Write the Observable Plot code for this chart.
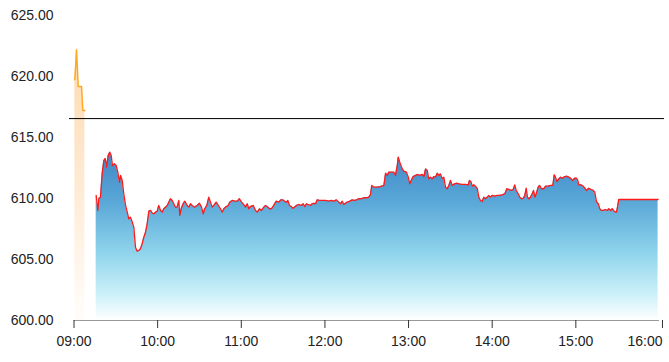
<!DOCTYPE html>
<html><head><meta charset="utf-8">
<script src="https://cdn.jsdelivr.net/npm/d3@7"></script>
<script src="https://cdn.jsdelivr.net/npm/@observablehq/plot@0.6"></script>
<style>body{margin:0;background:#fff} svg{display:block}</style>
</head><body><div id="chart"></div>
<script>
// minutes after 09:00
const preMinutes = [0.6, 1.8, 3.0, 5.4, 6.3, 7.8];
const prePrices  = [619.73, 622.19, 619.18, 619.18, 617.21, 617.21];

const minutes = [15.9,17.1,17.8,19.0,20.2,21.4,22.4,23.3,24.5,25.7,26.7,27.6,29.1,30.3,31.4,32.6,33.4,34.6,35.7,37.0,38.2,39.3,40.5,41.8,42.9,44.1,45.3,46.5,47.7,48.9,50.1,51.3,52.5,53.7,54.9,56.1,57.3,58.5,59.7,60.8,62.1,63.3,64.4,65.6,66.9,68.0,69.2,70.5,71.6,72.8,74.0,75.2,75.9,76.9,78.3,79.5,81.2,82.4,83.6,84.8,86.5,88.4,90.0,91.5,92.7,93.8,95.3,96.7,97.9,99.1,100.3,102.0,103.5,105.1,106.3,107.5,108.7,110.6,111.8,113.5,115.4,117.1,118.7,120.2,121.8,123.0,124.3,125.4,126.6,128.6,130.2,131.4,133.1,134.5,136.2,137.4,138.6,140.3,141.7,143.3,145.1,146.9,148.4,149.8,151.4,152.5,153.4,154.6,155.8,157.0,158.2,159.6,161.3,163.0,164.4,165.6,166.8,168.0,169.7,170.9,172.0,173.3,174.5,176.3,178.1,180.4,182.8,184.5,186.4,188.3,190.0,191.2,192.4,193.6,194.8,196.0,197.9,199.6,201.2,202.7,204.3,206.0,207.9,209.8,211.5,212.7,213.6,215.1,217.5,219.9,222.3,223.5,224.7,225.8,227.6,229.4,230.6,231.9,232.6,233.7,235.5,236.6,238.5,239.8,240.9,241.9,243.3,245.0,246.6,248.1,249.8,251.0,252.2,253.4,254.5,255.8,257.0,258.1,259.3,260.6,261.7,262.9,264.2,265.3,266.5,267.7,268.9,270.1,271.3,273.0,274.4,276.1,278.5,280.9,282.8,283.7,284.7,285.7,286.8,288.0,289.3,290.4,291.6,292.8,294.0,295.2,296.4,297.6,298.8,300.0,301.9,303.6,305.3,307.2,309.1,310.5,311.9,313.7,315.1,316.2,317.2,318.7,319.8,321.0,322.3,323.4,324.4,325.3,326.3,327.5,328.7,329.7,330.6,331.6,333.0,334.0,335.4,337.0,338.3,340.2,341.8,343.5,344.5,345.4,346.4,347.8,349.0,350.2,351.4,353.3,355.0,356.7,357.8,359.1,360.5,361.4,362.1,363.9,365.3,366.5,367.7,369.3,371.0,372.5,373.6,374.8,376.1,377.2,378.2,379.7,381.3,382.5,383.7,384.9,386.1,387.8,389.2,390.1,390.8,419.0];
const prices = [610.25,609.02,610.00,610.11,612.05,613.11,613.28,612.57,613.52,613.80,613.52,612.70,612.84,612.70,612.16,611.34,611.89,611.48,610.39,609.43,608.88,608.34,608.47,608.06,607.65,606.01,605.68,605.74,605.88,606.29,606.83,607.24,607.93,608.96,609.02,608.80,608.75,608.88,608.96,609.43,609.02,608.88,609.16,609.29,609.43,609.70,609.98,609.84,609.57,609.29,609.29,609.84,608.61,609.16,609.57,609.78,609.43,609.29,609.57,609.43,609.29,609.43,609.61,609.29,608.75,609.16,609.43,610.11,609.70,609.29,609.43,609.70,609.43,609.16,608.88,609.16,609.29,609.43,609.70,609.84,609.78,609.78,609.98,609.70,609.51,609.29,609.57,609.16,609.34,609.43,609.02,608.88,609.16,609.02,609.29,609.43,609.34,609.16,609.16,609.43,609.78,609.70,609.89,609.89,609.75,609.70,609.84,609.43,609.34,609.20,609.29,609.43,609.51,609.43,609.57,609.34,609.57,609.51,609.43,609.57,609.61,609.57,609.89,609.84,609.84,609.84,609.78,609.84,609.78,609.89,609.70,609.57,609.78,609.51,609.61,609.70,609.78,609.89,609.84,609.89,609.98,609.98,610.06,610.06,610.11,610.33,611.07,610.93,610.93,610.98,611.07,612.07,611.89,612.16,612.16,612.16,611.89,612.70,613.39,612.98,612.43,612.24,612.16,611.75,611.20,611.48,611.80,611.89,611.97,611.89,611.97,611.80,612.43,612.30,611.61,611.75,611.61,611.80,611.75,612.07,611.89,612.02,611.61,611.75,610.93,610.80,611.07,611.48,611.07,611.20,611.25,611.20,611.15,611.15,611.12,611.48,611.39,611.01,611.12,611.01,610.80,610.11,609.84,609.75,610.11,609.98,610.11,610.25,610.11,610.25,610.19,610.25,610.25,610.30,610.39,610.80,610.74,610.66,610.74,611.12,610.66,610.39,610.11,609.98,610.02,610.25,610.84,610.11,609.98,610.11,610.39,610.66,610.11,610.39,610.93,611.07,610.80,610.80,611.01,611.01,611.07,611.07,611.94,611.75,611.39,611.61,611.75,611.66,611.75,611.83,611.75,611.61,611.48,611.66,611.66,611.48,611.12,611.12,611.01,610.84,610.66,610.84,610.74,610.66,610.52,609.75,609.57,609.16,609.02,609.02,609.10,609.02,609.16,609.02,609.16,608.93,608.88,609.43,609.92,609.92];

const prevClose = 616.55;
const yTicks = [600, 605, 610, 615, 620, 625];
const xTicks = [0, 60, 120, 180, 240, 300, 360];
const xLastTick = [420];
const xTickLabels = ["09:00","10:00","11:00","12:00","13:00","14:00","15:00","16:00"];

const pre = preMinutes.map((m, i) => ({m, p: prePrices[i]}));
const main = minutes.map((m, i) => ({m, p: prices[i]}));
const fmtX = m => xTickLabels[Math.round(m / 60)];

const chart = Plot.plot({
  width: 669,
  height: 362,
  marginLeft: 69,
  marginRight: 5,
  marginTop: 15,
  marginBottom: 42,
  style: {fontFamily: "'Liberation Sans', Arial, sans-serif", fontSize: "14px", color: "#222", background: "#fff"},
  x: {type: "linear", domain: [-3.23, 423.6]},
  y: {domain: [600, 625]},
  marks: [
    Plot.areaY(pre, {x: "m", y1: () => 600, y2: "p", fill: "url(#orangeFill)"}),
    Plot.areaY(main, {x: "m", y1: () => 600, y2: "p", fill: "url(#blueFill)"}),
    Plot.line(pre, {x: "m", y: "p", stroke: "#ffa820", strokeWidth: 1.5}),
    Plot.line(main, {x: "m", y: "p", stroke: "#ff1a1a", strokeWidth: 1.3}),
    Plot.ruleY([prevClose], {stroke: "#000", strokeWidth: 1}),
    Plot.ruleY([600], {x1: () => 0, x2: () => 420, stroke: "#999", strokeWidth: 1}),
    Plot.axisX({ticks: xTicks, tickFormat: fmtX, tickSize: 8, tickPadding: 8, stroke: "#333", fill: "#222", label: null}),
    Plot.axisX({ticks: xLastTick, tickFormat: fmtX, tickSize: 8, tickPadding: 8, stroke: "#333", fill: "#222", label: null, textAnchor: "end", dx: 3}),
    Plot.axisY({ticks: yTicks, tickFormat: d => d.toFixed(2), tickSize: 0, tickPadding: 16, fill: "#222", label: null})
  ]
});

const defs = document.createElementNS("http://www.w3.org/2000/svg", "defs");
defs.innerHTML = `
<linearGradient id="blueFill" x1="0" y1="0" x2="0" y2="1">
  <stop offset="0" stop-color="#3f86c6"/>
  <stop offset="0.3" stop-color="#5aa8d8"/>
  <stop offset="0.6" stop-color="#8fd4ec"/>
  <stop offset="0.85" stop-color="#cdf1f9"/>
  <stop offset="1" stop-color="#ffffff"/>
</linearGradient>
<linearGradient id="orangeFill" x1="0" y1="0" x2="0" y2="1">
  <stop offset="0" stop-color="#fddcb0"/>
  <stop offset="0.35" stop-color="#fee5c9"/>
  <stop offset="1" stop-color="#fffdfa"/>
</linearGradient>`;
chart.insertBefore(defs, chart.firstChild);
document.getElementById("chart").appendChild(chart);
</script>
</body></html>
